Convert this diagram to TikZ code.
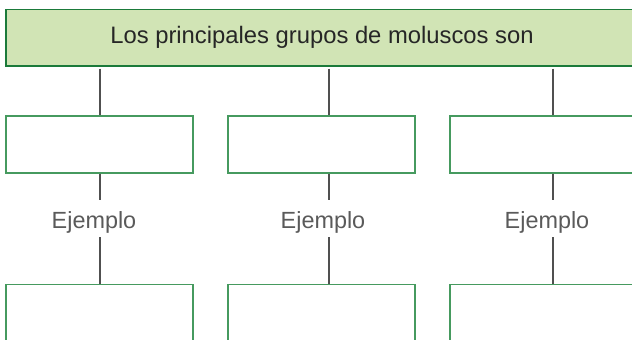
\documentclass[tikz,border=0pt]{standalone}
\usepackage{fontspec}
\setmainfont{Liberation Sans}
\usetikzlibrary{chains, positioning}
\definecolor{titlefill}{HTML}{D1E4B5}
\definecolor{titleline}{HTML}{1B7A3A}
\definecolor{boxline}{HTML}{469A5F}
\definecolor{linkgray}{HTML}{505050}
\definecolor{textgray}{HTML}{5A5A5A}

\begin{document}
\begin{tikzpicture}[
   x = 1pt, y = -1pt,
   start chain = going right,
   node distance = 33.8pt,
   title/.style = {draw=titleline, fill=titlefill, line width=1.3pt, minimum width=632pt, minimum height=56.5pt, inner sep=0pt, text=black!85, font=\fontsize{23.8}{28}\selectfont},
   group/.style = {draw=boxline, line width=1.2pt, minimum width=187pt, minimum height=57pt, inner sep=0pt},
   example/.style = {text=textgray, font=\fontsize{23.4}{28}\selectfont, text height=28pt, text depth=9pt, inner sep=0pt, anchor=base},
   link/.style = {draw=linkgray, line width=1.2pt}]
   \useasboundingbox (0,0) rectangle (632,340);

   \node[title] (title) at (322,37.75) {Los principales grupos de moluscos son};

   \node[group, on chain] (box1) at (99.5,144.5) {};
   \node[group, on chain] (box2) {};
   \node[group, on chain] (box3) {};

   \node[example] (ej1) at (94,228) {Ejemplo};
   \node[example] (ej2) at (323,228) {Ejemplo};
   \node[example] (ej3) at (547,228) {Ejemplo};

   \node[group, minimum height=70pt, below=110pt of box1] (low1) {};
   \node[group, minimum height=70pt, below=110pt of box2] (low2) {};
   \node[group, minimum height=70pt, below=110pt of box3] (low3) {};

   \coordinate (c1) at (100,0);
   \coordinate (c2) at (329,0);
   \coordinate (c3) at (553,0);

   \draw[link, shorten <=2pt] (title.south -| c1) -- (c1 |- box1.north);
   \draw[link, shorten <=2pt] (title.south -| c2) -- (c2 |- box2.north);
   \draw[link, shorten <=2pt] (title.south -| c3) -- (c3 |- box3.north);

   \draw[link] (box1.south -| c1) -- (c1 |- ej1.north);
   \draw[link] (box2.south -| c2) -- (c2 |- ej2.north);
   \draw[link] (box3.south -| c3) -- (c3 |- ej3.north);

   \draw[link] (ej1.south -| c1) -- (c1 |- low1.north);
   \draw[link] (ej2.south -| c2) -- (c2 |- low2.north);
   \draw[link] (ej3.south -| c3) -- (c3 |- low3.north);
\end{tikzpicture}
\end{document}
